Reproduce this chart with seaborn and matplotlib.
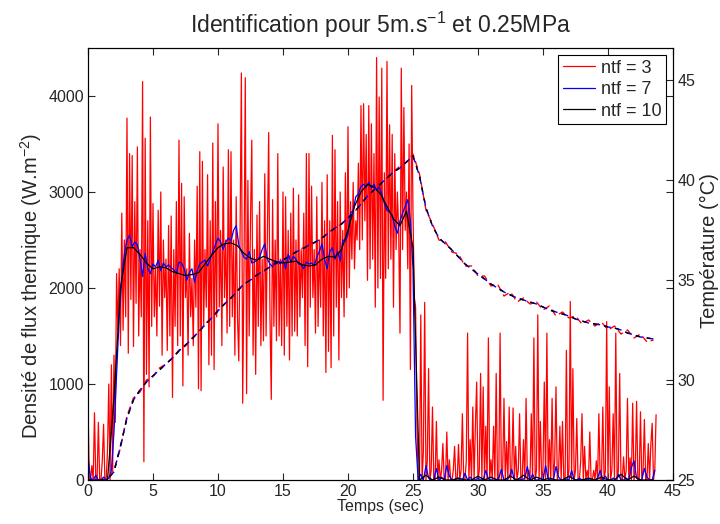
import numpy as np
import pandas as pd
import matplotlib
matplotlib.use("Agg")
import matplotlib.pyplot as plt
import seaborn as sns

# heat flux density, ntf = 3 (one value every 0.1 s, from t = 0)
flux_ntf3 = [
    800, 0, 0, 150, 0, 700, 0, 0, 600, 0,
    0, 200, 580, 0, 0, 300, 1000, 0, 1200, 100,
    1300, 600, 2150, 1560, 2200, 1400, 2780, 1560, 2500, 1700,
    3770, 1320, 3400, 1880, 3380, 1390, 2900, 1840, 3470, 1500,
    2400, 1700, 4150, 190, 3560, 1100, 2700, 970, 3780, 1600,
    2880, 1700, 2200, 1500, 2810, 1810, 3000, 1300, 2500, 1900,
    2300, 1350, 2650, 1500, 2750, 860, 2400, 1600, 2900, 1400,
    3540, 1500, 3090, 980, 2950, 1900, 2200, 1300, 2570, 1700,
    2100, 1400, 2500, 1800, 3060, 950, 3420, 930, 3320, 1600,
    2400, 1800, 3180, 1200, 2700, 1300, 3510, 1150, 2900, 1700,
    3710, 1800, 2600, 1400, 3260, 1900, 2500, 1530, 3440, 1600,
    3420, 1700, 2500, 1300, 2950, 1700, 1240, 2600, 4240, 800,
    2200, 4190, 900, 3120, 1500, 2700, 3540, 1300, 2400, 1100,
    2760, 1600, 2900, 1400, 2300, 1450, 3190, 1500, 2600, 3620,
    1700, 840, 2920, 1600, 2500, 1450, 3400, 1500, 2300, 1400,
    3000, 1300, 2950, 1600, 2600, 1250, 2780, 1500, 3040, 1550,
    2500, 1500, 2970, 1700, 2400, 1900, 2780, 1400, 3400, 1180,
    3400, 1800, 3060, 1900, 2400, 1530, 2950, 1600, 2500, 1800,
    3100, 1500, 2700, 1120, 3180, 1340, 2700, 1170, 3590, 1500,
    3440, 1800, 2900, 1250, 3000, 1900, 2600, 1700, 3200, 1900,
    3680, 2000, 2900, 2300, 3100, 2200, 2700, 2500, 3300, 2400,
    3900, 2500, 3920, 2700, 3600, 2080, 3900, 2200, 3710, 2300,
    3400, 1800, 4400, 2000, 3990, 2100, 4290, 830, 3200, 2100,
    4360, 2200, 3700, 2300, 3600, 1800, 3400, 2400, 3000, 2600,
    1530, 4290, 2400, 3880, 2600, 3000, 2200, 3500, 1150, 4110,
    2800, 1900, 1800, 600, 0, 0, 1720, 0, 300, 1850,
    0, 200, 1160, 0, 100, 760, 0, 0, 610, 0,
    210, 0, 100, 380, 0, 0, 500, 0, 210, 0,
    0, 100, 350, 0, 0, 370, 0, 100, 690, 0,
    0, 200, 1530, 0, 420, 0, 760, 0, 560, 1020,
    0, 100, 1110, 0, 970, 0, 560, 0, 1480, 0,
    210, 0, 560, 0, 1110, 0, 0, 1530, 0, 100,
    850, 0, 400, 0, 760, 0, 100, 750, 0, 350,
    0, 100, 690, 0, 0, 420, 0, 850, 0, 100,
    0, 690, 0, 1480, 0, 100, 1720, 0, 610, 0,
    100, 1020, 0, 1530, 0, 420, 0, 850, 0, 200,
    970, 0, 100, 560, 0, 610, 0, 0, 1350, 0,
    100, 1860, 0, 1160, 0, 100, 640, 0, 0, 200,
    690, 0, 350, 0, 100, 0, 500, 0, 0, 100,
    0, 200, 0, 690, 0, 0, 760, 0, 100, 1650,
    0, 970, 0, 100, 690, 0, 1530, 0, 100, 1110,
    0, 0, 240, 0, 100, 850, 0, 230, 0, 800,
    0, 100, 820, 0, 0, 710, 0, 100, 630, 0,
    0, 380, 0, 380, 590, 0, 100, 680,
]

# heat flux density, ntf = 7 (one value every 0.2 s)
flux_ntf7 = [
    240, 20, 0, 50, 0, 0, 30, 0, 20, 100,
    500, 1100, 1700, 2100, 2350, 2500, 2550, 2430, 2480, 2450,
    2300, 2120, 2360, 2200, 2150, 2250, 2220, 2290, 2180, 2260,
    2220, 2240, 2210, 2190, 2150, 2270, 2260, 2200, 2080, 2160,
    2200, 2060, 2180, 2250, 2270, 2290, 2230, 2300, 2380, 2450,
    2520, 2480, 2400, 2480, 2520, 2490, 2600, 2650, 2450, 2380,
    2320, 2300, 2380, 2260, 2270, 2290, 2320, 2400, 2460, 2300,
    2250, 2220, 2280, 2270, 2250, 2300, 2200, 2350, 2270, 2330,
    2300, 2250, 2240, 2200, 2270, 2250, 2260, 2230, 2320, 2380,
    2460, 2300, 2200, 2380, 2420, 2300, 2380, 2280, 2500, 2490,
    2560, 2780, 2810, 2950, 2980, 3060, 3080, 3050, 3100, 3040,
    3080, 3020, 3050, 2980, 2880, 2810, 2790, 2760, 2640, 2570,
    2700, 2780, 2850, 2920, 2700, 2200, 450, 0, 60, 0,
    150, 20, 0, 0, 120, 0, 30, 0, 150, 40,
    0, 0, 20, 0, 0, 70, 0, 30, 0, 0,
    20, 0, 0, 100, 10, 0, 0, 0, 20, 110,
    0, 0, 30, 110, 0, 0, 10, 0, 20, 140,
    0, 60, 0, 0, 20, 0, 150, 10, 0, 0,
    140, 30, 0, 0, 10, 0, 100, 0, 0, 20,
    0, 0, 10, 0, 0, 0, 20, 100, 0, 40,
    0, 0, 20, 0, 60, 0, 0, 20, 0, 130,
    200, 20, 0, 0, 120, 30, 0, 0, 100,
]

# heat flux density, ntf = 10 (one value every 0.5 s)
flux_ntf10 = [
    0, 0, 0, 0, 850, 2000, 2420, 2420, 2350, 2260,
    2200, 2220, 2210, 2170, 2150, 2130, 2140, 2160, 2250, 2340,
    2420, 2460, 2470, 2440, 2360, 2310, 2290, 2330, 2300, 2270,
    2260, 2270, 2280, 2240, 2230, 2240, 2300, 2330, 2320, 2400,
    2600, 2850, 3000, 3080, 3050, 2980, 2850, 2720, 2650, 2800,
    2420, 0, 50, 0, 30, 0, 0, 20, 0, 0,
    40, 0, 30, 0, 0, 40, 0, 50, 0, 30,
    0, 20, 0, 0, 40, 0, 0, 20, 0, 30,
    0, 0, 60, 0, 40, 0, 0, 0,
]

# surface temperature (degC), one value every 0.5 s
temp_ntf10 = [
    25.0, 25.0, 25.0, 25.05, 25.4, 26.7, 28.1, 29.0, 29.5, 29.9,
    30.2, 30.5, 30.8, 31.1, 31.45, 31.75, 32.05, 32.4, 32.75, 33.1,
    33.45, 33.8, 34.1, 34.45, 34.8, 35.0, 35.25, 35.45, 35.65, 35.85,
    36.0, 36.2, 36.4, 36.55, 36.75, 36.9, 37.1, 37.35, 37.6, 37.8,
    38.1, 38.4, 38.8, 39.2, 39.5, 39.8, 40.1, 40.4, 40.6, 40.9,
    41.2, 40.2, 38.6, 37.7, 37.1, 36.8, 36.5, 36.15, 35.8, 35.55,
    35.3, 35.05, 34.8, 34.6, 34.4, 34.25, 34.1, 34.0, 33.9, 33.8,
    33.65, 33.5, 33.4, 33.3, 33.2, 33.05, 32.95, 32.85, 32.8, 32.75,
    32.65, 32.6, 32.5, 32.35, 32.25, 32.15, 32.1, 32.05,
]
temp_ntf7 = list(temp_ntf10)  # same curve as ntf = 10 on the picture
temp_ntf3 = [
    25.0, 25.0, 25.0, 25.1, 25.5, 26.6, 28.2, 29.1, 29.4, 30.0,
    30.2, 30.6, 30.8, 31.1, 31.5, 31.7, 32.1, 32.4, 32.8, 33.1,
    33.5, 33.8, 34.1, 34.5, 34.8, 35.0, 35.3, 35.4, 35.7, 35.8,
    36.0, 36.2, 36.4, 36.6, 36.7, 36.9, 37.1, 37.4, 37.6, 37.8,
    38.1, 38.4, 38.8, 39.2, 39.5, 39.9, 40.1, 40.4, 40.7, 40.9,
    41.3, 40.3, 38.5, 37.8, 37.0, 36.9, 36.4, 36.3, 35.7, 35.7,
    35.2, 35.2, 34.7, 34.8, 34.2, 34.4, 33.9, 34.1, 33.8, 33.9,
    33.5, 33.7, 33.2, 33.4, 33.1, 33.2, 32.8, 33.0, 32.7, 32.9,
    32.5, 32.7, 32.3, 32.5, 32.1, 32.3, 31.9, 32.0,
]

t3 = np.arange(len(flux_ntf3)) * 0.1
t7 = np.arange(len(flux_ntf7)) * 0.2
t10 = np.arange(len(flux_ntf10)) * 0.5
tT = np.arange(len(temp_ntf10)) * 0.5

sns.set_style("ticks")
plt.rcParams['font.family'] = ['Liberation Sans', 'DejaVu Sans']
plt.rcParams['mathtext.default'] = 'regular'

fig = plt.figure(figsize=(7.2, 5.24), dpi=100)
ax = fig.add_axes([0.1222, 0.084, 0.8125, 0.8244])

sns.lineplot(x=t3, y=flux_ntf3, ax=ax, color='red', lw=0.9, label='ntf = 3')
sns.lineplot(x=t7, y=flux_ntf7, ax=ax, color='blue', lw=0.9, label='ntf = 7')
sns.lineplot(x=t10, y=flux_ntf10, ax=ax, color='black', lw=0.9, label='ntf = 10')
handles, labels = ax.get_legend_handles_labels()
ax.get_legend().remove()

ax.set_xlim(0, 45)
ax.set_ylim(0, 4500)
ax.set_xticks(range(0, 46, 5))
ax.set_yticks(range(0, 4001, 1000))

# temperature on the right axis: three dashed curves on top of each other
ax2 = ax.twinx()
sns.lineplot(x=tT, y=temp_ntf3, ax=ax2, color='red', lw=1.0)
ax2.lines[-1].set_linestyle((0, (5, 3)))
sns.lineplot(x=tT, y=temp_ntf7, ax=ax2, color='blue', lw=1.0)
ax2.lines[-1].set_linestyle((0, (5, 3)))
sns.lineplot(x=tT, y=temp_ntf10, ax=ax2, color='black', lw=1.0)
ax2.lines[-1].set_linestyle((0, (3, 5)))
ax2.set_ylim(25, 46.6)
ax2.set_yticks([25, 30, 35, 40, 45])

ax.tick_params(direction='in', length=5, top=True, right=True, labelsize=11.5, pad=3)
ax2.tick_params(direction='in', length=5, labelsize=11.5, pad=3)
for a in (ax, ax2):
    for s in a.spines.values():
        s.set_color('black')
        s.set_linewidth(0.8)

ax.set_xlabel('Temps (sec)', fontsize=11.5, labelpad=0)
ax.set_ylabel('Densité de flux thermique (W.m$^{-2}$)', fontsize=14.5, va='center')
ax.yaxis.set_label_coords(-0.098, 0.45)
ax2.set_ylabel('Température (°C)', fontsize=14.5, va='center')
ax2.yaxis.set_label_coords(1.062, 0.53)
ax.set_title('Identification pour 5m.s$^{-1}$ et 0.25MPa', fontsize=16.5, pad=11)

leg = ax2.legend(handles, labels, loc='upper right', fontsize=13, frameon=True,
                 fancybox=False, framealpha=1, edgecolor='black',
                 handlelength=1.8, handletextpad=0.3, borderpad=0.25,
                 labelspacing=0.25, borderaxespad=0.4)
leg.get_frame().set_linewidth(0.8)

fig.savefig('out.png', dpi=100)
